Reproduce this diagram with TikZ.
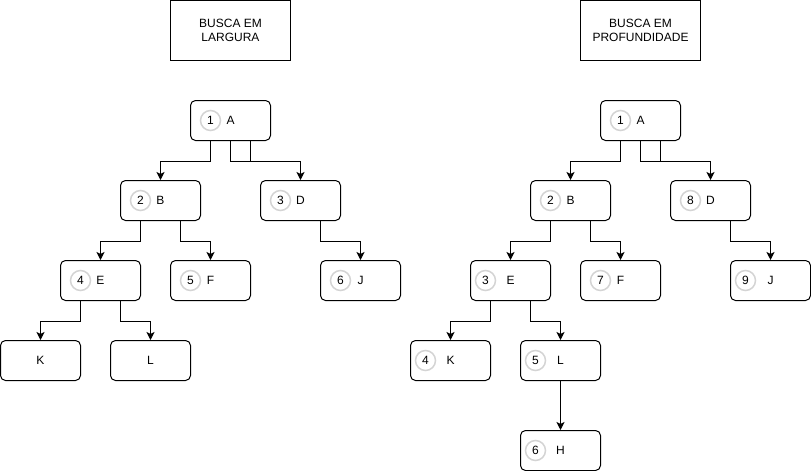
\documentclass[tikz,border=0pt]{standalone}
\usepackage{fontspec}
\setmainfont{Liberation Sans}
\usetikzlibrary{arrows.meta}
\definecolor{ringgray}{RGB}{212,212,212}
\begin{document}
\begin{tikzpicture}[x=1pt,y=-1pt,
  every node/.style={font=\fontsize{12}{14}\selectfont},
  treenode/.style={draw=black,line width=1pt,rounded corners=5pt,minimum width=80pt,minimum height=40pt,inner sep=0pt},
  titlebox/.style={draw=black,line width=1pt,minimum width=120pt,minimum height=60pt,align=center,inner sep=0pt},
  ring/.style={circle,draw=ringgray,line width=1.5pt,minimum size=20pt,inner sep=0pt},
  link/.style={draw=black,line width=1pt,-{Stealth[length=8pt,width=8pt,inset=2pt]}},
  plainline/.style={draw=black,line width=1pt}
]
\useasboundingbox (0,0) rectangle (811,471);
\begin{scope}[shift={(0.5,0.5)}]
% ---------- left tree: busca em largura ----------
\node[titlebox] (T1) at (230,30) {BUSCA EM\\LARGURA};
\node[treenode] (A) at (230,120) {A};
\node[ring] (A1) at (210,120) {1};
\node[treenode] (B) at (160,200) {B};
\node[ring] (B1) at (140,200) {2};
\node[treenode] (D) at (300,200) {D};
\node[ring] (D1) at (280,200) {3};
\node[treenode] (E) at (100,280) {E};
\node[ring] (E1) at (80,280) {4};
\node[treenode] (F) at (210,280) {F};
\node[ring] (F1) at (190,280) {5};
\node[treenode] (J) at (360,280) {J};
\node[ring] (J1) at (340,280) {6};
\node[treenode] (K) at (40,360) {K};
\node[treenode] (L) at (150,360) {L};

\draw[link] ([xshift=-20pt]A.south) -- ++(0,20) -| (B.north);
\draw[link] (A.south) -- ++(0,20) -| (D.north);
\draw[plainline] ([xshift=20pt]A.south) -- ++(0,20);
\draw[link] ([xshift=-20pt]B.south) -- ++(0,20) -| (E.north);
\draw[link] ([xshift=20pt]B.south) -- ++(0,20) -| (F.north);
\draw[link] ([xshift=20pt]D.south) -- ++(0,20) -| (J.north);
\draw[link] ([xshift=-20pt]E.south) -- ++(0,20) -| (K.north);
\draw[link] ([xshift=20pt]E.south) -- ++(0,20) -| (L.north);

% ---------- right tree: busca em profundidade ----------
\node[titlebox] (T2) at (640,30) {BUSCA EM\\PROFUNDIDADE};
\node[treenode] (RA) at (640,120) {A};
\node[ring] (RA1) at (620,120) {1};
\node[treenode] (RB) at (570,200) {B};
\node[ring] (RB1) at (550,200) {2};
\node[treenode] (RD) at (710,200) {D};
\node[ring] (RD1) at (690,200) {8};
\node[treenode] (RE) at (510,280) {E};
\node[ring] (RE1) at (485,280) {3};
\node[treenode] (RF) at (620,280) {F};
\node[ring] (RF1) at (600,280) {7};
\node[treenode] (RJ) at (770,280) {J};
\node[ring] (RJ1) at (745,280) {9};
\node[treenode] (RK) at (450,360) {K};
\node[ring] (RK1) at (425,360) {4};
\node[treenode] (RL) at (560,360) {L};
\node[ring] (RL1) at (535,360) {5};
\node[treenode] (RH) at (560,450) {H};
\node[ring] (RH1) at (535,450) {6};

\draw[link] ([xshift=-20pt]RA.south) -- ++(0,20) -| (RB.north);
\draw[link] (RA.south) -- ++(0,20) -| (RD.north);
\draw[plainline] ([xshift=20pt]RA.south) -- ++(0,20);
\draw[link] ([xshift=-20pt]RB.south) -- ++(0,20) -| (RE.north);
\draw[link] ([xshift=20pt]RB.south) -- ++(0,20) -| (RF.north);
\draw[link] ([xshift=20pt]RD.south) -- ++(0,20) -| (RJ.north);
\draw[link] ([xshift=-20pt]RE.south) -- ++(0,20) -| (RK.north);
\draw[link] ([xshift=20pt]RE.south) -- ++(0,20) -| (RL.north);
\draw[link] (RL.south) -- (RH.north);
\end{scope}
\end{tikzpicture}
\end{document}
